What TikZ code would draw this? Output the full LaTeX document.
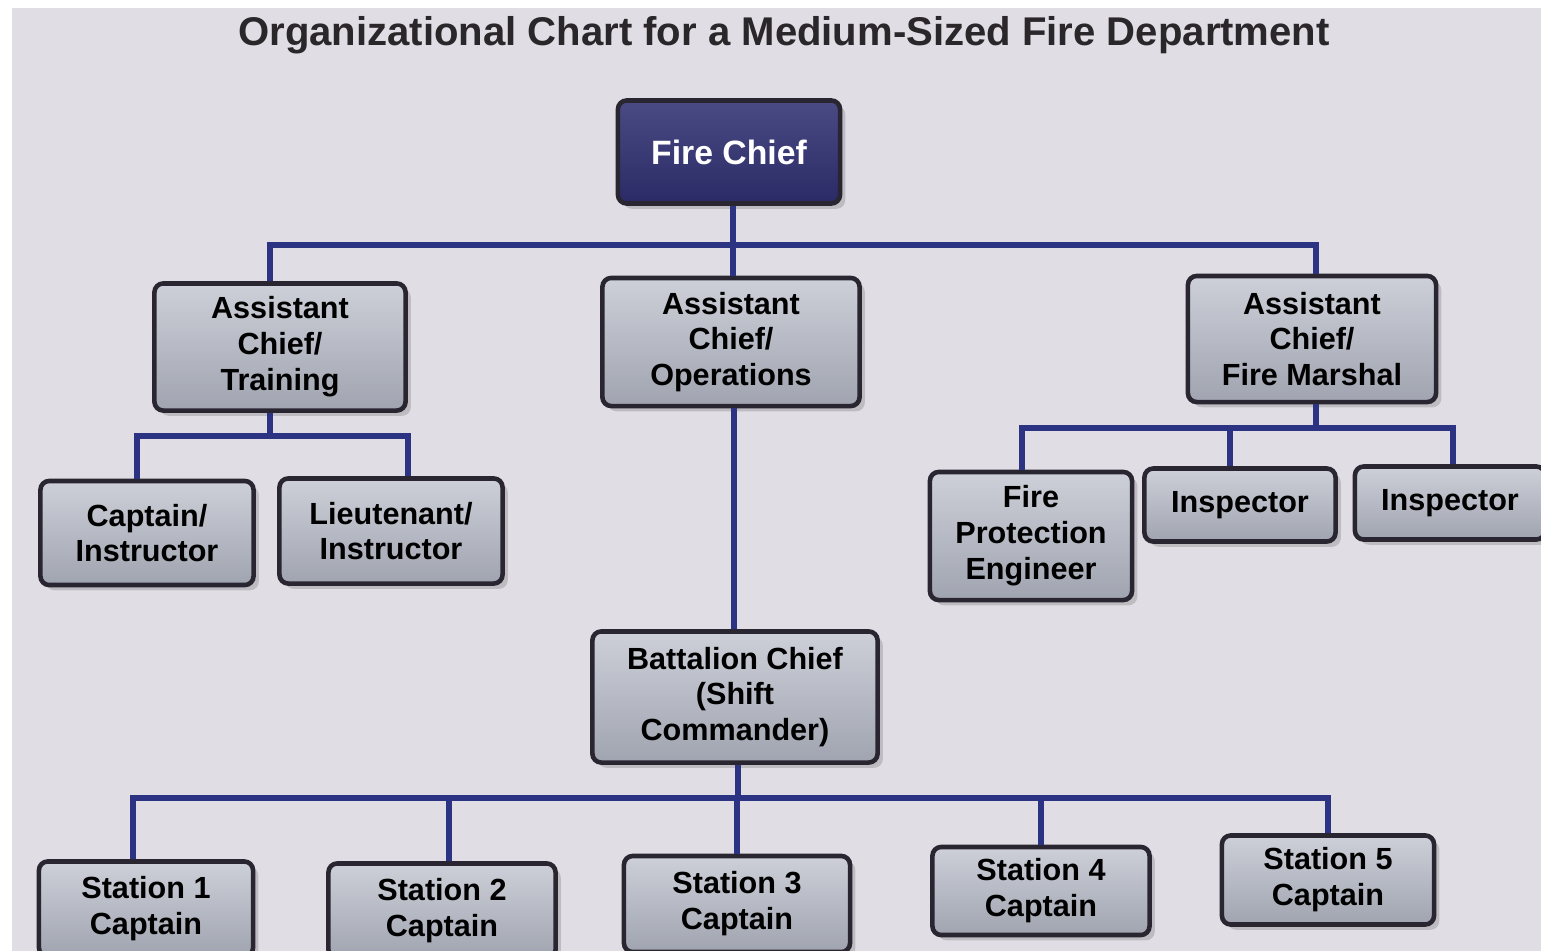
\documentclass[tikz,border=0pt]{standalone}
\usepackage{fontspec}
\setmainfont{Liberation Sans}
\usepackage{tikz}
\usetikzlibrary{shadows}
\definecolor{paper}{HTML}{E0DDE4}
\definecolor{linkblue}{HTML}{2B3382}
\definecolor{boxedge}{HTML}{2A2631}
\definecolor{boxhi}{HTML}{CDD0D8}
\definecolor{boxlo}{HTML}{A0A4B0}
\definecolor{navytop}{HTML}{4A4A84}
\definecolor{navybot}{HTML}{2A2A66}
\definecolor{inkgray}{HTML}{2A2629}

\begin{document}
\begin{tikzpicture}[x=0.01cm,y=-0.01cm,
    link/.style={draw=linkblue,line width=1.7pt},
    box/.style={draw=boxedge,line width=1.3pt,rounded corners=2.5pt,
      top color=boxhi,bottom color=boxlo,align=center,text=black,
      font=\bfseries\fontsize{8.7}{10.2}\selectfont,inner sep=1pt,
      drop shadow={shadow xshift=1.5pt,shadow yshift=-1.5pt,opacity=0.35}},
    chiefbox/.style={box,top color=navytop,bottom color=navybot,text=white,
      font=\bfseries\fontsize{9.6}{12}\selectfont}]
  \useasboundingbox (0,0) rectangle (1541,951);
  \clip (0,0) rectangle (1541,951);
  \fill[white] (0,0) rectangle (1541,951);
  \fill[paper] (12,8) rectangle (1541,951);

  \node[text=inkgray,font=\bfseries\fontsize{11.4}{13}\selectfont] (title) at (784,35)
    {Organizational Chart for a Medium-Sized Fire Department};

  \node[chiefbox,minimum width=2.22cm,minimum height=1.03cm] (chief) at (729,152) {Fire Chief};

  \node[box,minimum width=2.51cm,minimum height=1.27cm] (actrain) at (280,347) {Assistant\\Chief/\\Training};
  \node[box,minimum width=2.57cm,minimum height=1.28cm] (acops) at (731,342) {Assistant\\Chief/\\Operations};
  \node[box,minimum width=2.48cm,minimum height=1.26cm] (acfm) at (1312,339) {Assistant\\Chief/\\Fire Marshal};

  \node[box,minimum width=2.13cm,minimum height=1.04cm] (capinst) at (147,533) {Captain/\\Instructor};
  \node[box,minimum width=2.23cm,minimum height=1.05cm] (ltinst) at (391,531) {Lieutenant/\\Instructor};

  \node[box,minimum width=2.02cm,minimum height=1.28cm] (fpe) at (1031,536) {Fire\\Protection\\Engineer};
  \node[box,minimum width=1.91cm,minimum height=0.73cm] (insp1) at (1240,505) {Inspector};
  \node[box,minimum width=1.90cm,minimum height=0.73cm] (insp2) at (1450,503) {Inspector};

  \node[box,minimum width=2.85cm,minimum height=1.31cm] (batt) at (735,697) {Battalion Chief\\(Shift\\Commander)};

  \node[box,minimum width=2.14cm,minimum height=0.95cm] (st1) at (146,909) {Station 1\\Captain};
  \node[box,minimum width=2.27cm,minimum height=0.95cm] (st2) at (442,911) {Station 2\\Captain};
  \node[box,minimum width=2.26cm,minimum height=0.96cm] (st3) at (737,904) {Station 3\\Captain};
  \node[box,minimum width=2.17cm,minimum height=0.88cm] (st4) at (1041,891) {Station 4\\Captain};
  \node[box,minimum width=2.12cm,minimum height=0.89cm] (st5) at (1328,880) {Station 5\\Captain};

  % bar heights
  \coordinate (bar1) at (0,245);
  \coordinate (bar2) at (0,436);
  \coordinate (bar3) at (0,428);
  \coordinate (bar4) at (0,798);

  \draw[link] ([xshift=0.04cm]chief.south) -- ([xshift=0.04cm]chief.south |- bar1);
  \draw[link] ([xshift=-0.1cm]actrain.north) |- ([xshift=0.04cm]acfm.north |- bar1) -- ([xshift=0.04cm]acfm.north);
  \draw[link] ([xshift=0.02cm]acops.north) -- ([xshift=0.02cm]acops.north |- bar1);

  \draw[link] ([xshift=-0.1cm]actrain.south) -- ([xshift=-0.1cm]actrain.south |- bar2);
  \draw[link] ([xshift=-0.1cm]capinst.north) |- ([xshift=0.17cm]ltinst.north |- bar2) -- ([xshift=0.17cm]ltinst.north);

  \draw[link] ([xshift=0.04cm]acfm.south) -- ([xshift=0.04cm]acfm.south |- bar3);
  \draw[link] ([xshift=-0.09cm]fpe.north) |- ([xshift=0.03cm]insp2.north |- bar3) -- ([xshift=0.03cm]insp2.north);
  \draw[link] ([xshift=-0.1cm]insp1.north) -- ([xshift=-0.1cm]insp1.north |- bar3);

  \draw[link] ([xshift=0.03cm]acops.south) -- ([xshift=0.03cm]acops.south |- batt.north);

  \draw[link] ([xshift=0.03cm]batt.south) -- ([xshift=0.03cm]batt.south |- bar4);
  \draw[link] ([xshift=-0.13cm]st1.north) |- (st5.north |- bar4) -- (st5.north);
  \draw[link] ([xshift=0.07cm]st2.north) -- ([xshift=0.07cm]st2.north |- bar4);
  \draw[link] (st3.north) -- (st3.north |- bar4);
  \draw[link] (st4.north) -- (st4.north |- bar4);
\end{tikzpicture}
\end{document}
